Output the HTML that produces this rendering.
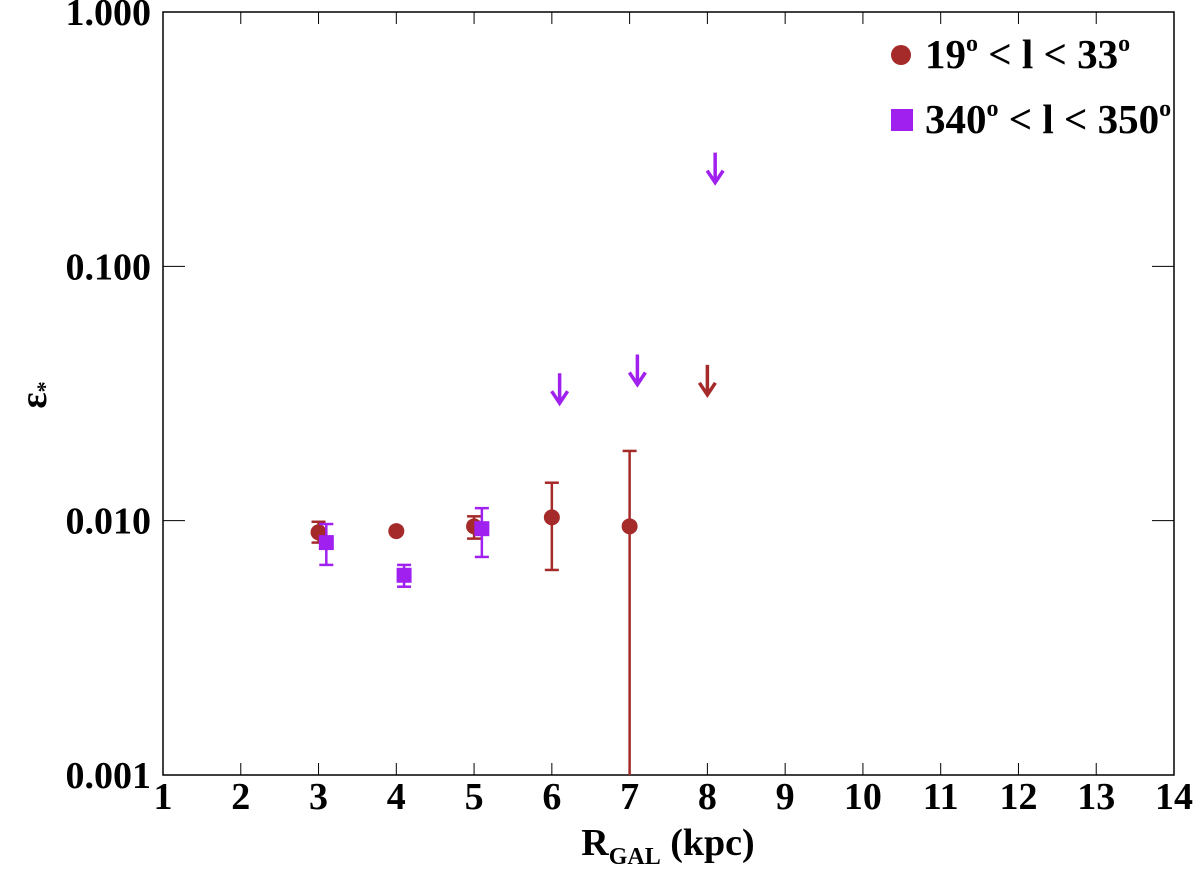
<!DOCTYPE html>
<html><head><meta charset="utf-8"><style>
body{margin:0;background:#fff}
svg text{font-family:"Liberation Serif",serif;font-weight:bold;fill:#000}
</style></head><body>
<svg id="chart" width="1200" height="883" viewBox="0 0 1200 883">
<g id="axes"></g><g id="marks"></g>
<g>
<circle cx="901" cy="55" r="10" fill="#a52a2a"/>
<text x="925" y="68" font-size="41">19<tspan font-size="24" dy="-17">o</tspan><tspan dy="17"> &lt; l &lt; 33</tspan><tspan font-size="24" dy="-17">o</tspan></text>
<rect x="891" y="109" width="22" height="22" fill="#a020f0"/>
<text x="925" y="133" font-size="41">340<tspan font-size="24" dy="-17">o</tspan><tspan dy="17"> &lt; l &lt; 350</tspan><tspan font-size="24" dy="-17">o</tspan></text>
</g>
</svg>
<script>
const xTicks=[1,2,3,4,5,6,7,8,9,10,11,12,13,14];
const yTicks=[0.001,0.01,0.1,1];
const yTickLabels=["0.001","0.010","0.100","1.000"];
const redX=[3,4,5,6,7];
const redY=[0.0090,0.0091,0.0095,0.0103,0.0095];
const redLo=[0.0082,0.0091,0.0085,0.0064,0.0001];
const redHi=[0.0099,0.0091,0.0104,0.0141,0.0188];
const redLimX=[8];
const redLimY=[0.041];
const purX=[3.1,4.1,5.1];
const purY=[0.0082,0.0061,0.0093];
const purLo=[0.0067,0.0055,0.0072];
const purHi=[0.0097,0.0067,0.0112];
const purLimX=[6.1,7.1,8.1];
const purLimY=[0.038,0.045,0.28];

const L=163,R=1174,T=12,B=775;
const sx=v=>L+(v-1)*(R-L)/13;
const sy=v=>{const y=B-(Math.log10(v)+3)*(B-T)/3;return Math.min(y,B);};
const NS="http://www.w3.org/2000/svg";
function mk(tag,attrs,parent){const e=document.createElementNS(NS,tag);for(const k in attrs)e.setAttribute(k,attrs[k]);parent.appendChild(e);return e;}
const ax=document.getElementById('axes'),mg=document.getElementById('marks');
const frame=mk('rect',{x:L,y:T,width:R-L,height:B-T,fill:'none',stroke:'#000','stroke-width':1.5},ax);


xTicks.forEach(t=>{const x=sx(t);
 mk('line',{x1:x,y1:B,x2:x,y2:B-12,stroke:'#000','stroke-width':1},ax);
 mk('line',{x1:x,y1:T,x2:x,y2:T+12,stroke:'#000','stroke-width':1},ax);
 const tx=mk('text',{x:x,y:B+34,'font-size':38,'text-anchor':'middle'},ax);tx.textContent=t;
 
 
});
yTicks.forEach((t,i)=>{const y=sy(t);
 mk('line',{x1:L,y1:y,x2:L+22,y2:y,stroke:'#000','stroke-width':1},ax);
 mk('line',{x1:R,y1:y,x2:R-22,y2:y,stroke:'#000','stroke-width':1},ax);
 const tx=mk('text',{x:L-12,y:y+13,'font-size':38,'text-anchor':'end'},ax);tx.textContent=yTickLabels[i];
 
 
});
const xt=mk('text',{x:668,y:855,'font-size':38,'text-anchor':'middle'},ax);
xt.innerHTML='R<tspan font-size="24" dy="9">GAL</tspan><tspan dy="-9"> (kpc)</tspan>';


const yt=mk('text',{x:0,y:0,'font-size':38,'text-anchor':'middle',transform:'translate(46,395) rotate(-90)'},ax);
yt.innerHTML='ε<tspan font-size="22" dy="6">*</tspan>';


function errbar(x,lo,hi,c){const X=sx(x),y1=sy(lo),y2=sy(hi);
 mk('line',{x1:X,y1:y1,x2:X,y2:y2,stroke:c,'stroke-width':2.5},mg);
 if(lo>0.001)mk('line',{x1:X-7,y1:y1,x2:X+7,y2:y1,stroke:c,'stroke-width':2.5},mg);
 mk('line',{x1:X-7,y1:y2,x2:X+7,y2:y2,stroke:c,'stroke-width':2.5},mg);}
function arrow(x,v,c){const X=sx(x),y=sy(v);
 mk('path',{d:`M${X},${y} V${y+30} M${X-8},${y+18} L${X},${y+30} L${X+8},${y+18}`,stroke:c,'stroke-width':3.5,fill:'none'},mg);}
redX.forEach((x,i)=>{errbar(x,redLo[i],redHi[i],'#a52a2a');
 const c=mk('circle',{cx:sx(x),cy:sy(redY[i]),r:8,fill:'#a52a2a'},mg);
 
 });
purX.forEach((x,i)=>{errbar(x,purLo[i],purHi[i],'#a020f0');
 const r=mk('rect',{x:sx(x)-7.5,y:sy(purY[i])-7.5,width:15,height:15,fill:'#a020f0'},mg);
 
 });
redLimX.forEach((x,i)=>arrow(x,redLimY[i],'#a52a2a'));
purLimX.forEach((x,i)=>arrow(x,purLimY[i],'#a020f0'));
</script>
</body></html>
